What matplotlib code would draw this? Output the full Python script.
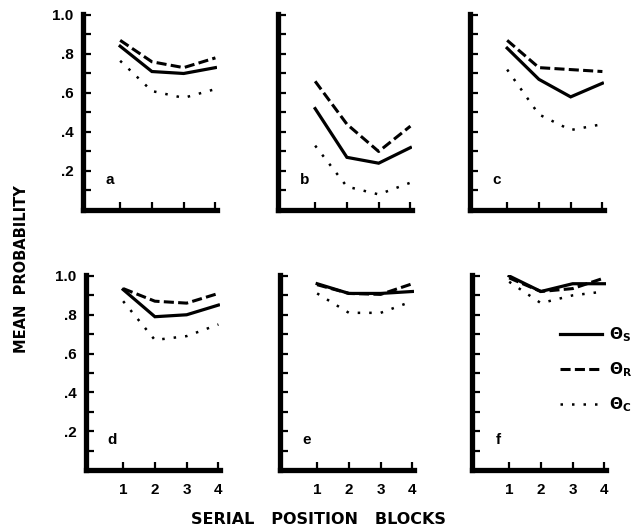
import numpy as np
import matplotlib
matplotlib.use("Agg")
import matplotlib.pyplot as plt

plt.rcParams['font.family'] = ['Liberation Sans', 'DejaVu Sans']
plt.rcParams['font.weight'] = 'bold'

# serial position blocks
blocks = [1, 2, 3, 4]

# mean probabilities: theta_S, theta_R, theta_C per panel
a_s = [0.84, 0.71, 0.70, 0.73]
a_r = [0.87, 0.76, 0.73, 0.78]
a_c = [0.765, 0.61, 0.575, 0.62]

b_s = [0.52, 0.27, 0.24, 0.32]
b_r = [0.66, 0.44, 0.30, 0.43]
b_c = [0.33, 0.12, 0.08, 0.14]

c_s = [0.83, 0.67, 0.58, 0.65]
c_r = [0.87, 0.73, 0.72, 0.71]
c_c = [0.72, 0.49, 0.41, 0.44]

d_s = [0.93, 0.79, 0.80, 0.85]
d_r = [0.935, 0.87, 0.86, 0.91]
d_c = [0.87, 0.67, 0.69, 0.75]

e_s = [0.96, 0.91, 0.91, 0.92]
e_r = [0.955, 0.91, 0.905, 0.96]
e_c = [0.91, 0.81, 0.81, 0.87]

f_s = [1.00, 0.92, 0.96, 0.96]
f_r = [0.99, 0.92, 0.935, 0.99]
f_c = [0.97, 0.86, 0.90, 0.92]

panel_letters = ['a', 'b', 'c', 'd', 'e', 'f']
panel_data = [(a_s, a_r, a_c), (b_s, b_r, b_c), (c_s, c_r, c_c),
              (d_s, d_r, d_c), (e_s, e_r, e_c), (f_s, f_r, f_c)]

ytick_vals = [0.1, 0.2, 0.3, 0.4, 0.5, 0.6, 0.7, 0.8, 0.9, 1.0]
ytick_text = ['', '.2', '', '.4', '', '.6', '', '.8', '', '1.0']
xtick_text = ['1', '2', '3', '4']
legend_text = [r'$\mathbf{\Theta}_{\mathsf{S}}$', r'$\mathbf{\Theta}_{\mathsf{R}}$',
               r'$\mathbf{\Theta}_{\mathsf{C}}$']

W, H = 641, 528
fig = plt.figure(figsize=(W / 100, H / 100), dpi=100)

# axes placement in pixels (left, bottom-of-axes y, top-of-axes y)
lefts = [83, 278, 470, 86, 280, 472]
row_y = [(210, 14), (210, 14), (210, 14), (470, 275), (470, 275), (470, 275)]
width_px = 134

for i, (letter, (s, r, c)) in enumerate(zip(panel_letters, panel_data)):
    yb, yt = row_y[i]
    ax = fig.add_axes([lefts[i] / W, 1 - yb / H, width_px / W, (yb - yt) / H])
    ls_s, = ax.plot(blocks, s, color='black', lw=2.3, solid_joinstyle='miter')
    ls_r, = ax.plot(blocks, r, color='black', lw=2.2, linestyle=(0, (3.3, 1.4)))
    ls_c, = ax.plot(blocks, c, color='black', lw=1.8, linestyle=(0, (1, 3.6)))
    ax.set_xlim(-0.17, 4.05)
    ax.set_ylim(0, 1.005)
    for side in ['top', 'right']:
        ax.spines[side].set_visible(False)
    for side in ['left', 'bottom']:
        ax.spines[side].set_linewidth(3.8)
        ax.spines[side].set_capstyle('projecting')
    ax.set_yticks(ytick_vals)
    ax.set_xticks(blocks)
    ax.tick_params(direction='in', length=5.5, width=1.6, labelsize=11, pad=7)
    ax.tick_params(axis='x', pad=9)
    if i % 3 == 0:
        ax.set_yticklabels(ytick_text, fontweight='bold')
    else:
        ax.set_yticklabels([])
    if i >= 3:
        ax.set_xticklabels(xtick_text, fontweight='bold')
    else:
        ax.set_xticklabels([])
    ax.text(0.66, 0.155, letter, fontsize=11, fontweight='bold', ha='center', va='center')
    ax.patch.set_alpha(0)
    if letter == 'f':
        ax.legend([ls_s, ls_r, ls_c], legend_text, loc='upper left',
                  bbox_to_anchor=(0.66, 0.74), frameon=False, fontsize=11,
                  handlelength=2.7, handletextpad=0.5, labelspacing=1.05,
                  borderaxespad=0, borderpad=0)

fig.text(22 / W, 1 - 269 / H, 'MEAN  PROBABILITY', rotation=90, ha='center', va='center',
         fontsize=10.5, fontweight='bold', family='DejaVu Sans')
fig.text(318 / W, 1 - 520 / H, 'SERIAL   POSITION   BLOCKS', ha='center', va='center',
         fontsize=11.5, fontweight='bold', family='DejaVu Sans')

fig.savefig('out.png', dpi=100)
